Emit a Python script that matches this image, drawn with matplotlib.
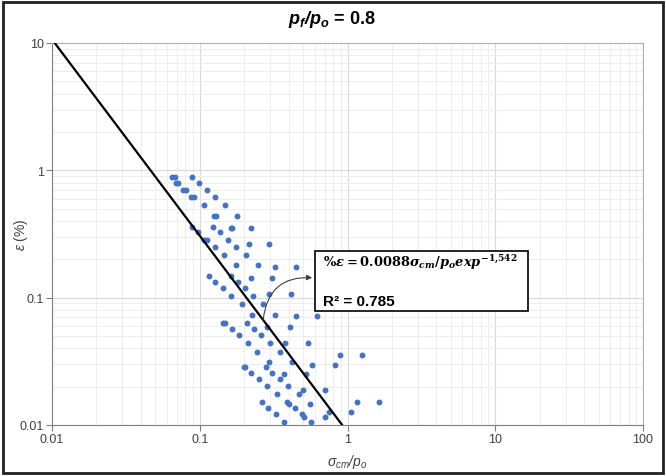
import numpy as np
import matplotlib
matplotlib.use('Agg')
import matplotlib.pyplot as plt
from matplotlib.patches import Rectangle
from matplotlib.ticker import LogLocator, NullFormatter

plt.rcParams['font.family'] = ['Liberation Sans', 'DejaVu Sans']
plt.rcParams['mathtext.fontset'] = 'custom'
plt.rcParams['mathtext.it'] = 'DejaVu Serif:italic:bold'
plt.rcParams['mathtext.rm'] = 'DejaVu Serif:bold'
plt.rcParams['mathtext.bf'] = 'Liberation Sans:italic:bold'
plt.rcParams['mathtext.sf'] = 'Liberation Sans:italic'

# sigma_cm/p_o vs strain (%)
sigma_po = [0.0646, 0.0680, 0.0882, 0.0691, 0.0716, 0.0993, 0.0774, 0.0807, 0.1114,
            0.0873, 0.0914, 0.1269, 0.1069, 0.1489, 0.1255, 0.1294, 0.1779, 0.0882,
            0.1235, 0.1615, 0.1653, 0.2233, 0.0978, 0.1371, 0.1073, 0.1114, 0.1560,
            0.2145, 0.2956, 0.1269, 0.1759, 0.1459, 0.2066, 0.1759, 0.2467, 0.3230,
            0.4447, 0.1155, 0.1627, 0.2223, 0.3097, 0.1269, 0.1807, 0.1430, 0.2025,
            0.1627, 0.2304, 0.2929, 0.4146, 0.1923, 0.2700, 0.2247, 0.3241, 0.4481,
            0.6246, 0.1437, 0.1482, 0.2079, 0.2839, 0.4050, 0.1645, 0.2329, 0.1844,
            0.2610, 0.2111, 0.2989, 0.3805, 0.5445, 0.2452, 0.3509, 0.8898, 1.248,
            0.2952, 0.4211, 0.1987, 0.2031, 0.2795, 0.5750, 0.8204, 0.2233, 0.3097,
            0.3717, 0.5278, 0.2518, 0.3482, 0.2839, 0.3975, 0.4975, 0.7009, 0.3343,
            0.4660, 0.2618, 0.3914, 0.4019, 0.5574, 1.154, 1.634, 0.2906, 0.4399,
            0.3297, 0.4920, 0.5077, 0.6998, 0.7449, 1.048, 0.3729, 0.5635]
strain = [0.882, 0.882, 0.882, 0.795, 0.795, 0.795, 0.705, 0.705, 0.705,
          0.614, 0.614, 0.614, 0.534, 0.534, 0.438, 0.438, 0.438, 0.361,
          0.361, 0.350, 0.350, 0.350, 0.326, 0.326, 0.286, 0.286, 0.286,
          0.265, 0.265, 0.250, 0.250, 0.215, 0.215, 0.179, 0.179, 0.175,
          0.175, 0.148, 0.148, 0.144, 0.144, 0.1334, 0.1334, 0.1187, 0.1187,
          0.1030, 0.1030, 0.1068, 0.1068, 0.0884, 0.0884, 0.0731, 0.0731, 0.0718,
          0.0718, 0.0630, 0.0630, 0.0630, 0.0590, 0.0590, 0.0567, 0.0567, 0.0507,
          0.0507, 0.0443, 0.0443, 0.0443, 0.0443, 0.0376, 0.0376, 0.0356, 0.0356,
          0.0315, 0.0315, 0.0287, 0.0287, 0.0287, 0.0294, 0.0294, 0.0258, 0.0258,
          0.0251, 0.0251, 0.0231, 0.0231, 0.0202, 0.0202, 0.0189, 0.0189, 0.0174,
          0.0174, 0.0151, 0.0151, 0.0146, 0.0146, 0.0151, 0.0151, 0.0135, 0.0135,
          0.0121, 0.0121, 0.0116, 0.0116, 0.0126, 0.0126, 0.0106, 0.0106]

# power-law fit shown on the chart
fit_a = 0.0088
fit_b = -1.542
r2 = 0.785
pf_po = 0.8

xticks = [0.01, 0.1, 1, 10, 100]
xtick_labels = ['0.01', '0.1', '1', '10', '100']
yticks = [0.01, 0.1, 1, 10]
ytick_labels = ['0.01', '0.1', '1', '10']

fig = plt.figure(figsize=(6.66, 4.77), dpi=100)
ax = fig.add_axes([52/666, 1 - 426/477, 591/666, 382/477])

ax.set_xscale('log')
ax.set_yscale('log')
ax.set_xlim(0.01, 100)
ax.set_ylim(0.01, 10)

ax.xaxis.set_minor_locator(LogLocator(base=10, subs=np.arange(2, 10)))
ax.yaxis.set_minor_locator(LogLocator(base=10, subs=np.arange(2, 10)))
ax.xaxis.set_minor_formatter(NullFormatter())
ax.yaxis.set_minor_formatter(NullFormatter())
ax.set_xticks(xticks, labels=xtick_labels)
ax.set_yticks(yticks, labels=ytick_labels)

ax.grid(which='major', color='#d9d9d9', lw=0.8)
ax.grid(which='minor', color='#ededed', lw=0.7)
ax.set_axisbelow(True)
ax.tick_params(which='major', direction='out', length=4, width=0.8, color='#7f7f7f',
               labelsize=9, labelcolor='#404040', pad=2)
ax.tick_params(which='minor', length=0)
for side in ['left', 'bottom']:
    ax.spines[side].set_color('#7f7f7f')
for side in ['top', 'right']:
    ax.spines[side].set_color('#b0b0b0')

ax.scatter(sigma_po, strain, s=18, color='#4472C4', zorder=3, linewidths=0)

x_fit = np.array([0.01, 2.0])
ax.plot(x_fit, fit_a * x_fit ** fit_b, color='black', lw=1.6, zorder=4)

ax.set_xlabel(r'$\mathsf{\sigma_{cm}/p_o}$', fontsize=10, color='#404040', labelpad=5)
ax.set_ylabel(r'$\mathsf{\varepsilon}$ (%)', fontsize=10, color='#404040')
ax.yaxis.set_label_coords(-0.037, 0.5)

# equation box
ax.add_patch(Rectangle((0.445, 0.299), 0.36, 0.157, transform=ax.transAxes,
                       facecolor='white', edgecolor='black', lw=1.2, zorder=5))
ax.text(0.4585, 0.4275, r'$\%\varepsilon = 0.0088\sigma_{cm}/p_o exp^{-1{,}542}$',
        transform=ax.transAxes, fontsize=9.4, va='center', ha='left', zorder=6)
ax.text(0.4585, 0.325, 'R² = %.3f' % r2, transform=ax.transAxes, fontsize=11,
        fontweight='bold', va='center', ha='left', zorder=6)
ax.annotate('', xy=(0.445, 0.385), xycoords='axes fraction',
            xytext=(0.357, 0.269), textcoords='axes fraction',
            arrowprops=dict(arrowstyle='-|>', color='#404040', lw=0.8,
                            mutation_scale=8,
                            connectionstyle='arc3,rad=-0.5'), zorder=6)

fig.text(332/666, 1 - 20/477, r'$\mathbf{p_f/p_o}$ = %.1f' % pf_po, fontsize=13,
         fontweight='bold', ha='center', va='center')

fig.patches.append(Rectangle((3/666, 3/477), 660/666, 471/477, transform=fig.transFigure,
                             fill=False, edgecolor='#202020', lw=2))

fig.savefig('out.png', dpi=100)
